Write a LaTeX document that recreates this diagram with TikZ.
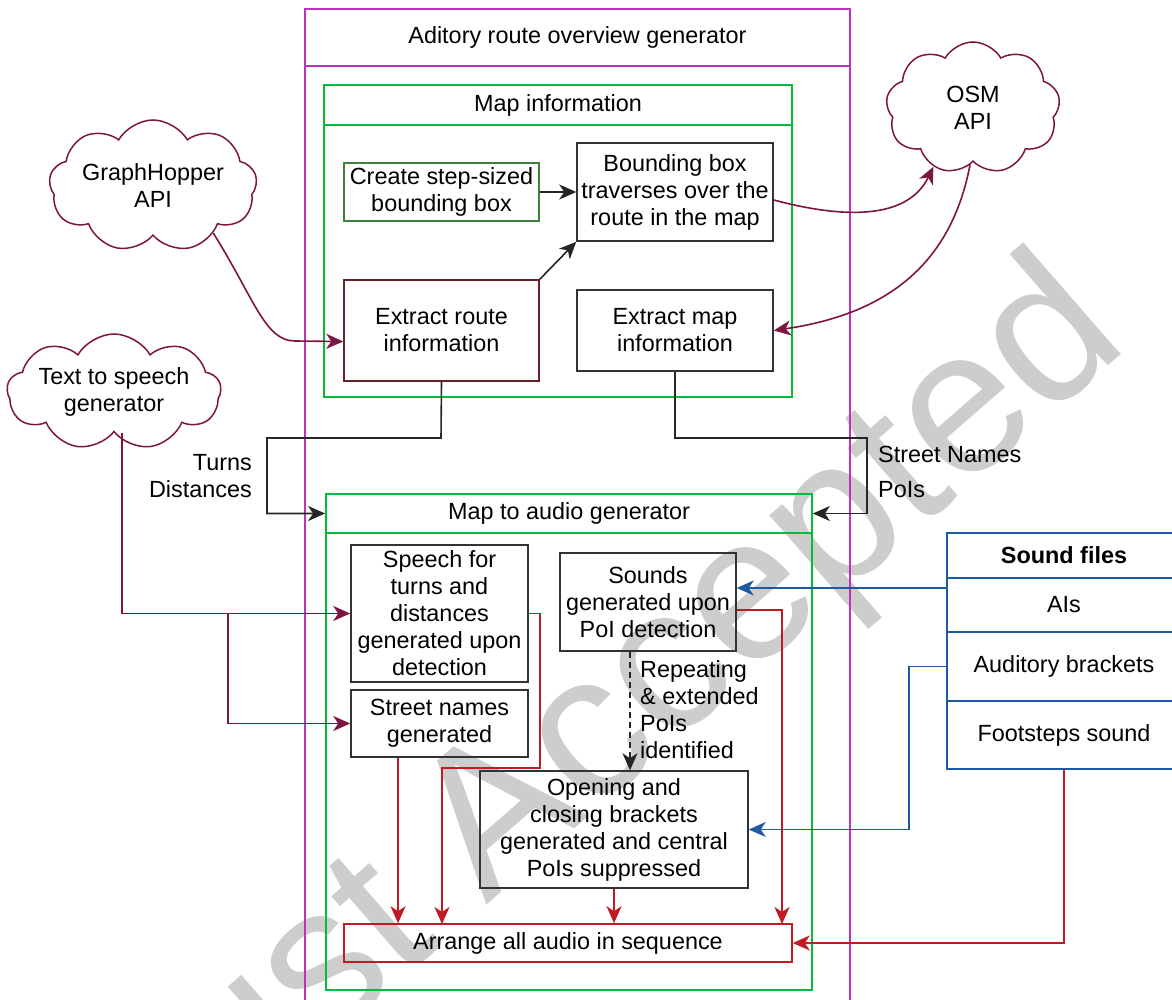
\documentclass[tikz,border=0pt]{standalone}
\usepackage{fontspec}
\setmainfont{Liberation Sans}
\usetikzlibrary{shapes.symbols,arrows.meta,calc}
\definecolor{cMag}{RGB}{190,50,190}
\definecolor{cGreen}{RGB}{0,190,60}
\definecolor{cDkGreen}{RGB}{60,130,60}
\definecolor{cMaroon}{RGB}{125,20,65}
\definecolor{cRed}{RGB}{195,25,35}
\definecolor{cBlue}{RGB}{30,90,160}
\definecolor{cBrown}{RGB}{100,35,40}
\definecolor{cWm}{RGB}{205,205,205}
\begin{document}
\begin{tikzpicture}[x=1pt,y=-1pt,
  every node/.style={font=\fontsize{23.4}{27}\selectfont, inner sep=0pt, align=center},
  box/.style={draw=black!80, line width=1.5pt},
  magbox/.style={draw=cMag, line width=1.5pt},
  grnbox/.style={draw=cGreen, line width=1.8pt},
  bluebox/.style={draw=cBlue, line width=1.5pt},
  cloudnode/.style={cloud, cloud ignores aspect, draw=cMaroon, line width=1.5pt, cloud puffs=9, cloud puff arc=120},
  arr/.style={-{Stealth[length=17pt,width=15pt,inset=5pt]}, line width=1.6pt},
  blk/.style={arr, draw=black!85},
  mar/.style={arr, draw=cMaroon},
  redc/.style={arr, draw=cRed},
  bluec/.style={arr, draw=cBlue},
  lbl/.style={font=\fontsize{23.4}{27}\selectfont}
]
\useasboundingbox (0,0) rectangle (1172,1000);
\clip (0,0) rectangle (1172,1000);

% watermark
\node[text=cWm, rotate=41, anchor=base west, font=\fontsize{205}{205}\selectfont] (wm) at (160,1190) {Just Accepted};

% outer box
\node[magbox, minimum width=545pt, minimum height=57pt] (title) at (577.5,37.5) {Aditory route overview generator};
\draw[magbox] (305,66) rectangle (850,1010);

% map information
\node[grnbox, minimum width=468pt, minimum height=40pt] (mi) at (558,105) {Map information};
\draw[grnbox] (324,125) rectangle (792,397);

\node[draw=cDkGreen, line width=1.5pt, minimum width=195pt, minimum height=58pt] (cs) at (441.5,192) {Create step-sized\\bounding box};
\node[box, minimum width=196pt, minimum height=98pt] (bb) at (675,192) {Bounding box\\traverses over the\\route in the map};
\node[draw=cBrown, line width=1.5pt, minimum width=195pt, minimum height=101pt] (er) at (441.5,330.5) {Extract route\\information};
\node[box, minimum width=196pt, minimum height=81pt] (em) at (675,330.5) {Extract map\\information};

\draw[blk] (cs.east) -- (bb.west |- cs.east);
\draw[blk] (er.north east) -- (bb.south west);

% clouds
\node[cloudnode, minimum width=208pt, minimum height=132pt] (gh) at (153,186) {GraphHopper\\API};
\node[cloudnode, minimum width=210pt, minimum height=116pt] (tts) at (114,392) {Text to speech\\generator};
\node[cloudnode, minimum width=174pt, minimum height=132pt] (osm) at (973,108) {OSM\\API};

\coordinate (erin) at ([yshift=-11pt]er.west);
\draw[mar] (gh.-38) .. controls (255,300) and (265,341) .. (295,341) -- (erin);
\coordinate (bbout) at ([yshift=-8pt]bb.east);
\draw[mar] (bbout) .. controls (830,215) and (905,225) .. (osm.-124);
\draw[mar] (osm.-93) .. controls (950,270) and (880,315) .. (em.east);

% map to audio generator
\node[grnbox, minimum width=486pt, minimum height=39pt] (ma) at (569,513.5) {Map to audio generator};
\draw[grnbox] (326,533) rectangle (812,990);

\draw[blk] (er.south) -- (441,438) -- (267,438) -- (267,513.5) -- (ma.west);
\draw[blk] (em.south) -- (675,438) -- (867,438) -- (867,513.5) -- (ma.east);
\node[lbl, anchor=east, align=right] (td) at (252,476) {Turns\\Distances};
\node[lbl, anchor=west, align=left] (snp) at (878,472) {Street Names\\[8pt]PoIs};

\node[box, minimum width=177pt, minimum height=137pt] (sp) at (439.5,613.5) {Speech for\\turns and\\distances\\generated upon\\detection};
\node[box, minimum width=177pt, minimum height=67pt] (sn) at (439.5,723.5) {Street names\\generated};
\node[box, minimum width=176pt, minimum height=98pt] (so) at (648,602) {Sounds\\generated upon\\PoI detection};
\node[box, minimum width=268pt, minimum height=117pt] (op) at (614,829.5) {Opening and\\closing brackets\\generated and central\\PoIs suppressed};
\node[draw=cRed, line width=1.6pt, minimum width=448pt, minimum height=38pt] (ar) at (568,943) {Arrange all audio in sequence};

\coordinate (sod) at ([xshift=-18pt]so.south);
\draw[blk, dash pattern=on 6pt off 4pt] (sod) -- (sod |- op.north);
\node[lbl, anchor=west, align=left] (rep) at (640,710) {Repeating\\\&\ extended\\PoIs\\identified};

% sound files
\node[bluebox, minimum width=234pt, minimum height=45pt, font=\bfseries\fontsize{23.4}{27}\selectfont] (sfh) at (1064,555.5) {Sound files};
\node[bluebox, minimum width=234pt, minimum height=54pt] (ais) at (1064,605) {AIs};
\node[bluebox, minimum width=234pt, minimum height=69pt] (ab) at (1064,666.5) {Auditory brackets};
\node[bluebox, minimum width=234pt, minimum height=68pt] (fs) at (1064,735) {Footsteps sound};

% text to speech connectors
\coordinate (ttsd) at ([xshift=8pt]tts.south);
\draw[mar] (ttsd) -- (ttsd |- sp.west) -- (sp.west);
\coordinate (br) at (228,613.5);
\draw[mar] (br) |- (sn.west);

% blue connectors
\coordinate (a1) at ([yshift=17pt]ais.west);
\draw[bluec] (a1) -- (a1 -| so.east);
\draw[bluec] (ab.west) -- (909,666.5) |- (op.east);

% red connectors
\coordinate (snd) at ([xshift=-41.5pt]sn.south);
\draw[redc] (snd) -- (snd |- ar.north);
\draw[redc] (sp.east) -- (540,613.5) -- (540,768) -- (442,768) -- (442,924);
\draw[redc] (op.south) -- (op.south |- ar.north);
\coordinate (soe) at ([yshift=-8pt]so.east);
\draw[redc] (soe) -- (782,610) -- (782,924);
\draw[redc] (fs.south) -- (fs.south |- ar.east) -- (ar.east);
\end{tikzpicture}
\end{document}
